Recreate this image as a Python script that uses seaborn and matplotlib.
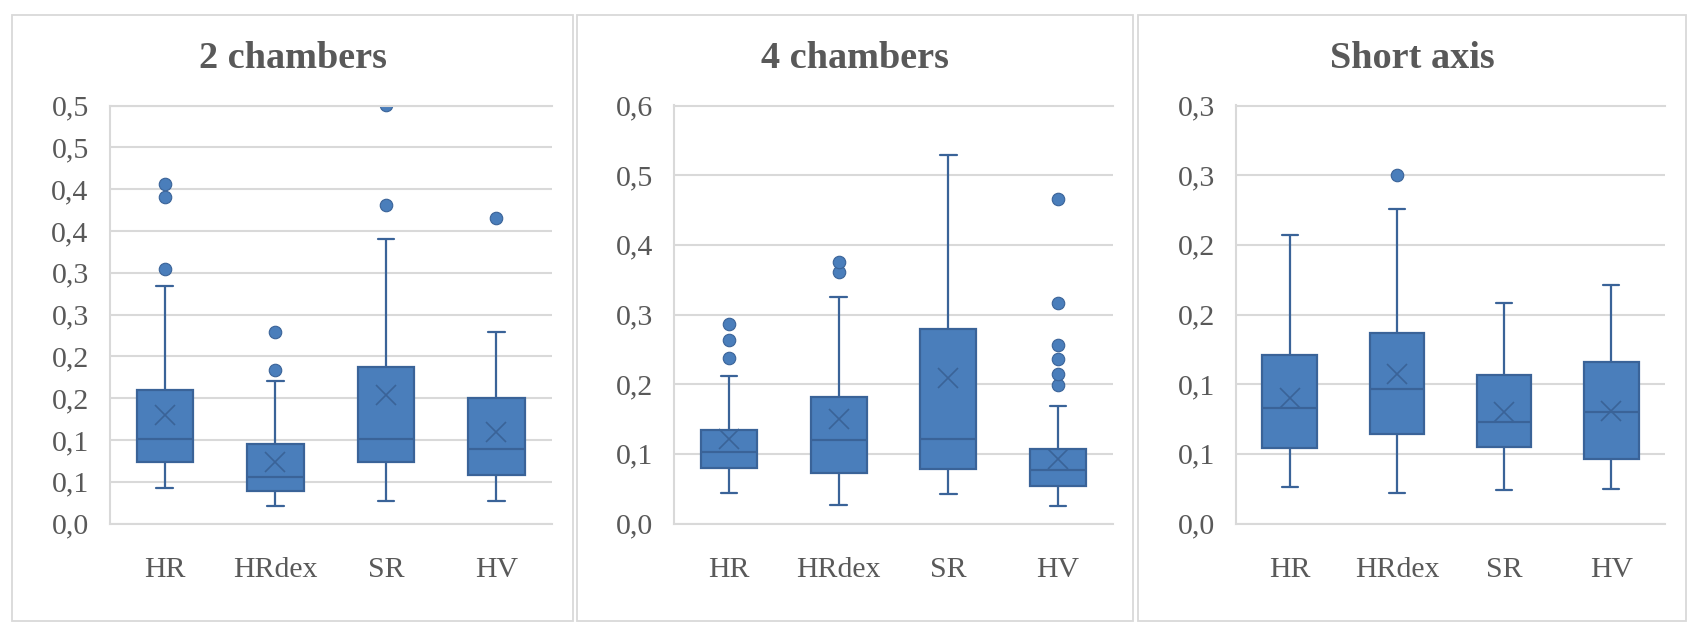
import numpy as np
import pandas as pd
import matplotlib
matplotlib.use("Agg")
import matplotlib.pyplot as plt
from matplotlib.patches import Rectangle
from matplotlib.ticker import FuncFormatter
import seaborn as sns

groups = ['HR', 'HRdex', 'SR', 'HV']
titles = ['2 chambers', '4 chambers', 'Short axis']
y_max = [0.5, 0.6, 0.3]
y_step = [0.05, 0.1, 0.05]

# raw values for each box (estimated so that quartiles, whiskers, outliers and mean match the picture)
two_ch_hr = [0.042, 0.044, 0.048, 0.051, 0.055, 0.059, 0.063, 0.068, 0.074, 0.076, 0.079,
             0.082, 0.085, 0.089, 0.093, 0.097, 0.101, 0.105, 0.110, 0.115, 0.120, 0.125,
             0.130, 0.137, 0.160, 0.163, 0.168, 0.175, 0.190, 0.284, 0.305, 0.391, 0.406]
two_ch_hrdex = [0.021, 0.023, 0.027, 0.030, 0.033, 0.036, 0.0385, 0.040, 0.043, 0.046, 0.050,
                0.053, 0.056, 0.058, 0.060, 0.062, 0.063, 0.066, 0.0955, 0.100, 0.110, 0.130,
                0.171, 0.184, 0.229]
two_ch_sr = [0.0265, 0.045, 0.053, 0.060, 0.065, 0.0695, 0.074, 0.080, 0.085, 0.090, 0.095,
             0.098, 0.101, 0.120, 0.140, 0.155, 0.170, 0.180, 0.187, 0.200, 0.240, 0.290,
             0.340, 0.381, 0.501]
two_ch_hv = [0.0265, 0.035, 0.042, 0.048, 0.054, 0.058, 0.063, 0.070, 0.076, 0.083, 0.089,
             0.090, 0.093, 0.097, 0.101, 0.150, 0.160, 0.180, 0.200, 0.229, 0.3655]

four_ch_hr = [0.0434, 0.048, 0.052, 0.056, 0.058, 0.0629, 0.080, 0.084, 0.088, 0.092, 0.096,
              0.100, 0.103, 0.108, 0.114, 0.120, 0.125, 0.130, 0.1347, 0.150, 0.180, 0.212,
              0.238, 0.263, 0.287]
four_ch_hrdex = [0.0265, 0.056, 0.062, 0.066, 0.070, 0.072, 0.073, 0.080, 0.090, 0.100, 0.107,
                 0.114, 0.1195, 0.130, 0.145, 0.155, 0.165, 0.175, 0.182, 0.200, 0.230, 0.270,
                 0.325, 0.361, 0.376]
four_ch_sr = [0.0424, 0.060, 0.070, 0.0765, 0.0786, 0.100, 0.110, 0.118, 0.121, 0.200, 0.240,
              0.270, 0.279, 0.350, 0.420, 0.480, 0.529]
four_ch_hv = [0.025, 0.026, 0.027, 0.028, 0.029, 0.030, 0.031, 0.032, 0.034, 0.036, 0.038,
              0.044, 0.054, 0.055, 0.055, 0.056, 0.057, 0.057, 0.058, 0.059, 0.060, 0.061,
              0.062, 0.064, 0.0765, 0.077, 0.077, 0.078, 0.078, 0.079, 0.079, 0.080, 0.080,
              0.081, 0.082, 0.0855, 0.107, 0.108, 0.108, 0.109, 0.110, 0.114, 0.168, 0.1986,
              0.2145, 0.2357, 0.2558, 0.3167, 0.466]

short_hr = [0.0262, 0.035, 0.042, 0.049, 0.054, 0.060, 0.068, 0.076, 0.083, 0.090, 0.100,
            0.110, 0.121, 0.125, 0.135, 0.1454, 0.207]
short_hrdex = [0.0222, 0.035, 0.045, 0.055, 0.0643, 0.070, 0.078, 0.087, 0.0964, 0.100, 0.112,
               0.1231, 0.1369, 0.150, 0.170, 0.226, 0.2498]
short_sr = [0.0243, 0.035, 0.043, 0.050, 0.0552, 0.058, 0.063, 0.068, 0.0731, 0.080, 0.088,
            0.097, 0.1064, 0.110, 0.120, 0.1341, 0.1583]
short_hv = [0.025, 0.030, 0.036, 0.041, 0.046, 0.052, 0.062, 0.072, 0.080, 0.085, 0.095,
            0.105, 0.116, 0.118, 0.120, 0.123, 0.171]

panels = [
    [two_ch_hr, two_ch_hrdex, two_ch_sr, two_ch_hv],
    [four_ch_hr, four_ch_hrdex, four_ch_sr, four_ch_hv],
    [short_hr, short_hrdex, short_sr, short_hv],
]

fill_col = '#4a7ebb'
edge_col = '#3a6398'
text_col = '#595959'
grid_col = '#d9d9d9'

sns.set_theme(style="whitegrid")
plt.rcParams['font.family'] = ['Liberation Serif', 'DejaVu Serif']

W, H = 1700, 633
fig = plt.figure(figsize=(W / 100, H / 100), dpi=100)

# pixel layout of the three chart frames and plot areas
frames = [(12, 573), (577, 1133), (1138, 1686)]
frame_top, frame_bottom = 15, 621
plot_x = [(109.5, 551.7), (674, 1113), (1236, 1665)]
top_px, zero_px = 105.5, 523.5

fmt = FuncFormatter(lambda v, p: f"{v + 1e-9:.1f}".replace('.', ','))

for i in range(3):
    x0, x1 = frames[i]
    fig.add_artist(Rectangle((x0 / W, 1 - frame_bottom / H), (x1 - x0) / W,
                             (frame_bottom - frame_top) / H, transform=fig.transFigure,
                             fill=False, edgecolor=grid_col, lw=1.3))

    px0, px1 = plot_x[i]
    ax = fig.add_axes([px0 / W, 1 - zero_px / H, (px1 - px0) / W, (zero_px - top_px) / H])

    df = pd.concat([pd.DataFrame({'group': g, 'value': v}) for g, v in zip(groups, panels[i])],
                   ignore_index=True)

    sns.boxplot(data=df, x='group', y='value', order=groups, ax=ax,
                color=fill_col, linecolor=edge_col, saturation=1, width=0.51,
                linewidth=1.6, showmeans=True, capwidths=0.15,
                meanprops=dict(marker='x', markeredgecolor=edge_col, markersize=14,
                               markeredgewidth=1.2),
                flierprops=dict(marker='o', markerfacecolor=fill_col, markeredgecolor=edge_col,
                                markeredgewidth=0.8, markersize=9))

    ax.set_ylim(0, y_max[i])
    ax.set_yticks(np.arange(0, y_max[i] + 1e-9, y_step[i]))
    ax.yaxis.set_major_formatter(fmt)
    ax.set_xlabel('')
    ax.set_ylabel('')
    ax.yaxis.grid(True, color=grid_col, lw=1.5)
    ax.xaxis.grid(False)
    ax.set_axisbelow(True)
    for side in ['left', 'top', 'bottom']:
        ax.spines[side].set_visible(True)
        ax.spines[side].set_color(grid_col)
        ax.spines[side].set_linewidth(1.5)
    ax.spines['right'].set_visible(False)
    ax.tick_params(axis='both', length=0, labelsize=21.5, labelcolor=text_col)
    ax.tick_params(axis='y', pad=15)
    ax.tick_params(axis='x', pad=24)

    fig.text(((x0 + x1) / 2) / W, 1 - 68 / H, titles[i], ha='center', va='baseline',
             fontsize=27.5, fontweight='bold', color=text_col)

fig.savefig('out.png', dpi=100)
